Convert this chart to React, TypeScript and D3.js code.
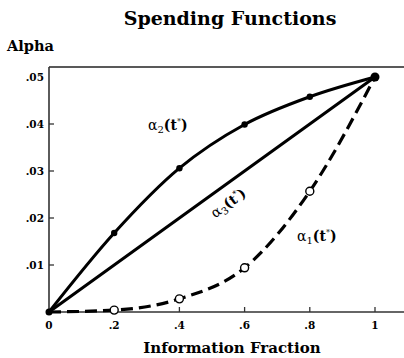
import React from 'react';
import * as d3 from 'd3';

// information fraction t*
const fractions = [0, 0.2, 0.4, 0.6, 0.8, 1];
// alpha spent
const alpha1 = [0, 0.0004, 0.0028, 0.0094, 0.0257, 0.05];
const alpha2 = [0, 0.0168, 0.0306, 0.0399, 0.0458, 0.05];
const alpha3 = [0, 0.01, 0.02, 0.03, 0.04, 0.05];
const xTicks = [0, 0.2, 0.4, 0.6, 0.8, 1];
const xTickLabels = ['0', '.2', '.4', '.6', '.8', '1'];
const yTicks = [0.01, 0.02, 0.03, 0.04, 0.05];
const yTickLabels = ['.01', '.02', '.03', '.04', '.05'];

const W = 404;
const H = 358;
const serif = '"DejaVu Serif", serif';

const App = () => {
  const x = d3.scaleLinear().domain([0, 1]).range([49, 375]);
  const y = d3.scaleLinear().domain([0, 0.05]).range([312, 77]);

  const pts = (vals: number[]) => fractions.map((t, i) => [t, vals[i]] as [number, number]);
  const line = d3.line<[number, number]>()
    .x(d => x(d[0]))
    .y(d => y(d[1]))
    .curve(d3.curveMonotoneX);
  const straight = d3.line<[number, number]>()
    .x(d => x(d[0]))
    .y(d => y(d[1]));

  const slope = Math.atan2(y(0.05) - y(0), x(1) - x(0)) * 180 / Math.PI;

  return (
    <svg width={W} height={H} style={{ position: 'absolute', left: 0, top: 0 }}>
      <rect width={W} height={H} fill="#fff" />
      {/* title + axis names */}
      <text x={230} y={25} textAnchor="middle" fontFamily={serif} fontWeight="bold" fontSize={19}>
        Spending Functions
      </text>
      <text x={7} y={51} fontFamily={serif} fontWeight="bold" fontSize={14.5}>Alpha</text>
      <text x={232} y={353} textAnchor="middle" fontFamily={serif} fontWeight="bold" fontSize={15}>
        Information Fraction
      </text>

      {/* frame */}
      <line x1={49} x2={W + 5} y1={67} y2={67} stroke="#222" strokeWidth={1.3} />
      <line x1={49} x2={49} y1={67} y2={y(0)} stroke="#333" strokeWidth={1.6} />
      <line x1={49} x2={W + 5} y1={y(0)} y2={y(0)} stroke="#333" strokeWidth={1.6} />

      {yTicks.map((v, i) => (
        <g key={'y' + i}>
          {v < 0.05 && <line x1={49} x2={54} y1={y(v)} y2={y(v)} stroke="#333" strokeWidth={1.3} />}
          <text x={44} y={y(v) + 4} textAnchor="end" fontFamily={serif} fontWeight="bold" fontSize={10.5}>
            {yTickLabels[i]}
          </text>
        </g>
      ))}
      {xTicks.map((v, i) => (
        <g key={'x' + i}>
          {v > 0 && <line x1={x(v)} x2={x(v)} y1={y(0)} y2={y(0) - 5} stroke="#333" strokeWidth={1.3} />}
          <text x={x(v)} y={y(0) + 17} textAnchor="middle" fontFamily={serif} fontWeight="bold" fontSize={10.5}>
            {xTickLabels[i]}
          </text>
        </g>
      ))}

      {/* curves */}
      <path d={straight(pts(alpha3)) ?? ''} fill="none" stroke="#000" strokeWidth={3} />
      <path d={line(pts(alpha2)) ?? ''} fill="none" stroke="#000" strokeWidth={3} />
      <path d={line(pts(alpha1)) ?? ''} fill="none" stroke="#000" strokeWidth={3.2} strokeDasharray="12 6" />

      {fractions.slice(1, 5).map((t, i) => (
        <circle key={'a2' + i} cx={x(t)} cy={y(alpha2[i + 1])} r={3.2} fill="#000" />
      ))}
      {fractions.slice(1, 5).map((t, i) => (
        <circle key={'a1' + i} cx={x(t)} cy={y(alpha1[i + 1])} r={4} fill="#fff" stroke="#000" strokeWidth={1.4} />
      ))}
      <circle cx={x(0)} cy={y(0)} r={3.5} fill="#000" />
      <circle cx={x(1)} cy={y(0.05)} r={4.5} fill="#000" />

      {/* curve labels */}
      <text x={148} y={130} fontFamily={serif} fontSize={14}>
        α<tspan fontSize={10} dy={3}>2</tspan><tspan dy={-3} fontWeight="bold">(t</tspan>
        <tspan fontSize={8} dy={-6}>*</tspan><tspan dy={6} fontWeight="bold">)</tspan>
      </text>
      <text x={297} y={241} fontFamily={serif} fontSize={14}>
        α<tspan fontSize={10} dy={3}>1</tspan><tspan dy={-3} fontWeight="bold">(t</tspan>
        <tspan fontSize={8} dy={-6}>*</tspan><tspan dy={6} fontWeight="bold">)</tspan>
      </text>
      <g transform={`translate(231,207) rotate(${slope})`}>
        <text x={0} y={0} textAnchor="middle" fontFamily={serif} fontSize={14}>
          α<tspan fontSize={10} dy={3}>3</tspan><tspan dy={-3} fontWeight="bold">(t</tspan>
          <tspan fontSize={8} dy={-6}>*</tspan><tspan dy={6} fontWeight="bold">)</tspan>
        </text>
      </g>
    </svg>
  );
};

export default App;
